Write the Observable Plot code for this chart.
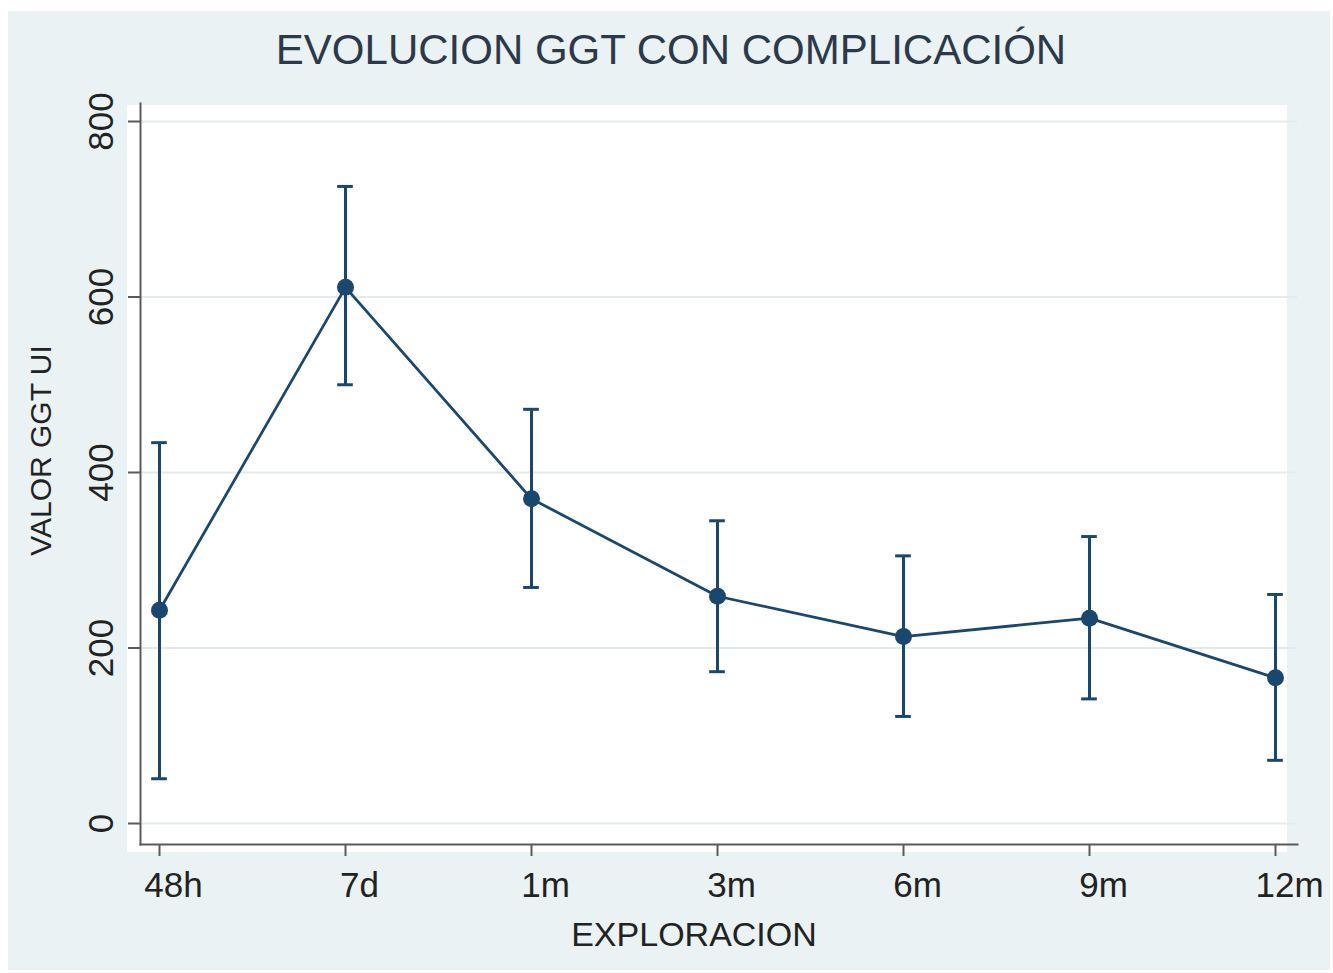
<!DOCTYPE html>
<html>
<head>
<meta charset="utf-8">
<script src="https://cdn.jsdelivr.net/npm/d3@7"></script>
<script src="https://cdn.jsdelivr.net/npm/@observablehq/plot@0.6"></script>
<style>
  html, body { margin: 0; padding: 0; background: #ffffff; }
  #page { position: relative; width: 1333px; height: 973px; background: #ffffff; overflow: hidden; font-family: "Liberation Sans", Arial, sans-serif; }
  #panel { position: absolute; left: 8px; top: 11px; width: 1322px; height: 959px; background: #eaf2f3; }
  #title { position: absolute; left: 0; top: 18px; width: 1326px; text-align: center; font-size: 42px; line-height: 42px; color: #2c394b; white-space: nowrap; }
  #plotbg { position: absolute; left: 119px; top: 94px; width: 1160px; height: 747px; background: #ffffff; }
  #chart { position: absolute; left: 0; top: 49px; }
</style>
</head>
<body>
<div id="page">
  <div id="panel">
    <div id="title">EVOLUCION GGT CON COMPLICACIÓN</div>
    <div id="plotbg"></div>
    <div id="chart"></div>
  </div>
</div>
<script>
const categories = ["48h", "7d", "1m", "3m", "6m", "9m", "12m"];
const meanValues = [243, 611, 370, 259, 213, 234, 166];
const upperValues = [434, 726, 472, 345, 305, 327, 261];
const lowerValues = [51, 500, 269, 173, 122, 142, 72];
const yTicks = [0, 200, 400, 600, 800];
const xTitle = "EXPLORACION";
const yTitle = "VALOR GGT UI";

const data = categories.map((t, i) => ({t, mean: meanValues[i], hi: upperValues[i], lo: lowerValues[i]}));

const navy = "#1a476f";
const axisColor = "#5a5a5a";
const textColor = "#222222";

const W = 1322, H = 910;
const step = (1268 - 150) / (categories.length - 1);

const chart = Plot.plot({
  width: W,
  height: H,
  marginLeft: 132,
  marginRight: 33,
  marginTop: 43,
  marginBottom: 126,
  style: {background: "transparent", fontFamily: "'Liberation Sans', Arial, sans-serif"},
  x: {type: "band", domain: categories, range: [150 - step / 2, 1268 + step / 2], padding: 0},
  y: {domain: [0, 800], range: [763, 61]},
  marks: [
    Plot.gridY(yTicks, {stroke: "#e3ebee", strokeOpacity: 1, strokeWidth: 2}),
    Plot.frame({anchor: "left", stroke: axisColor, strokeWidth: 2}),
    Plot.frame({anchor: "bottom", stroke: axisColor, strokeWidth: 2}),
    Plot.axisY(yTicks, {tickSize: 12, tickFormat: () => "", stroke: axisColor, strokeWidth: 2, label: null}),
    Plot.axisX({tickSize: 12, tickFormat: () => "", stroke: axisColor, strokeWidth: 2, label: null}),
    Plot.text(yTicks, {y: d => d, text: d => String(d), frameAnchor: "left", textAnchor: "middle", rotate: -90, lineAnchor: "top", dx: -52, fontSize: 35, fill: textColor}),
    Plot.text(categories, {x: d => d, text: d => d, frameAnchor: "bottom", lineAnchor: "top", dy: 28, dx: 14, fontSize: 35, fill: textColor}),
    Plot.text([xTitle], {text: d => d, frameAnchor: "bottom", lineAnchor: "top", dy: 77, dx: -25, fontSize: 34, fill: textColor}),
    Plot.text([yTitle], {text: d => d, frameAnchor: "left", textAnchor: "middle", rotate: -90, lineAnchor: "top", dx: -111, dy: -23.5, fontSize: 30, fill: textColor}),
    Plot.ruleX(data, {x: "t", y1: "lo", y2: "hi", stroke: navy, strokeWidth: 3}),
    Plot.tickY(data, {x: "t", y: "hi", stroke: navy, strokeWidth: 3, insetLeft: (step - 16) / 2, insetRight: (step - 16) / 2}),
    Plot.tickY(data, {x: "t", y: "lo", stroke: navy, strokeWidth: 3, insetLeft: (step - 16) / 2, insetRight: (step - 16) / 2}),
    Plot.line(data, {x: "t", y: "mean", stroke: navy, strokeWidth: 2.75}),
    Plot.dot(data, {x: "t", y: "mean", r: 8.5, fill: navy, stroke: "none"})
  ]
});
document.getElementById("chart").appendChild(chart);
</script>
</body>
</html>
